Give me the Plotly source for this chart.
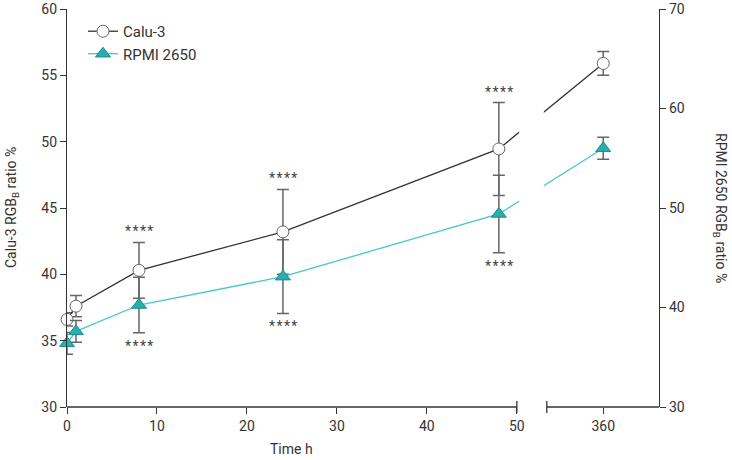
import plotly.graph_objects as go

# ---- data ----
times = [0, 1, 8, 24, 48, 360]
time_ticks = [0, 10, 20, 30, 40, 50, 360]
calu3_mean = [36.6, 37.6, 40.3, 43.2, 49.45, 55.9]
calu3_err = [0.5, 0.8, 2.1, 3.2, 3.5, 0.9]
rpmi_mean = [36.4, 37.6, 40.25, 43.1, 49.4, 56.0]
rpmi_err = [1.1, 1.1, 2.8, 3.7, 3.9, 1.1]
signif_times = [8, 24, 48]
signif_label = "*\u200a*\u200a*\u200a*"

# ---- broken x axis: 0-50 linear, then 360 placed after the break ----
SEG1_END = 50
GAP_START, GAP_END = 53.33, 65.8
POS_360 = 59.6


def xpos(t):
    return t if t <= SEG1_END else POS_360


xs = [xpos(t) for t in times]
tickpos = [xpos(t) for t in time_ticks]

FONT = "Roboto"
TXT = "#333333"
ERR = "#666666"

fig = go.Figure()
fig.add_trace(go.Scatter(
    x=xs, y=calu3_mean, name="Calu-3", mode="lines+markers",
    line=dict(color="#333333", width=1.3),
    marker=dict(symbol="circle", size=12, color="white",
                line=dict(color="#666666", width=1)),
    error_y=dict(type="data", array=calu3_err, color=ERR, thickness=1.5, width=6),
    cliponaxis=False, yaxis="y",
))
fig.add_trace(go.Scatter(
    x=xs, y=rpmi_mean, name="RPMI 2650", mode="lines+markers",
    line=dict(color="#45c8cc", width=1.3),
    marker=dict(symbol="triangle-up", size=13, color="#27aeb1",
                line=dict(color="#1d8c8f", width=1)),
    error_y=dict(type="data", array=rpmi_err, color=ERR, thickness=1.5, width=6),
    cliponaxis=False, yaxis="y2",
))

shapes = [
    # gap in the plot (break)
    dict(type="rect", xref="x", yref="paper", x0=50.25, x1=53.0, y0=-0.005, y1=1.0,
         fillcolor="white", line=dict(width=0), layer="above"),
    # axis segments
    dict(type="line", xref="x", yref="paper", x0=0, x1=SEG1_END, y0=0, y1=0,
         line=dict(color=TXT, width=1.3), layer="above"),
    dict(type="line", xref="x", yref="paper", x0=GAP_START, x1=GAP_END, y0=0, y1=0,
         line=dict(color=TXT, width=1.3), layer="above"),
    # break caps
    dict(type="line", xref="x", yref="paper", x0=SEG1_END, x1=SEG1_END,
         ysizemode="pixel", yanchor=0, y0=-6, y1=6,
         line=dict(color=TXT, width=1.3), layer="above"),
    dict(type="line", xref="x", yref="paper", x0=GAP_START, x1=GAP_START,
         ysizemode="pixel", yanchor=0, y0=-6, y1=6,
         line=dict(color=TXT, width=1.3), layer="above"),
]

annotations = []
for t in signif_times:
    i = times.index(t)
    annotations.append(dict(x=xpos(t), y=calu3_mean[i] + calu3_err[i], xref="x", yref="y",
                            text=signif_label, showarrow=False, yanchor="bottom", yshift=1,
                            font=dict(family=FONT, size=14, color="#444444")))
    annotations.append(dict(x=xpos(t), y=rpmi_mean[i] - rpmi_err[i], xref="x", yref="y2",
                            text=signif_label, showarrow=False, yanchor="top", yshift=-3,
                            font=dict(family=FONT, size=14, color="#444444")))

annotations.append(dict(x=25, y=0, xref="x", yref="paper", yshift=-42, text="Time h",
                        showarrow=False, yanchor="middle",
                        font=dict(family=FONT, size=14, color=TXT)))
annotations.append(dict(x=0, y=0.5, xref="paper", yref="paper", xshift=-55,
                        text="Calu-3 RGB<sub>B</sub> ratio %", textangle=-90,
                        showarrow=False, xanchor="center", yanchor="middle",
                        font=dict(family=FONT, size=14, color=TXT)))
annotations.append(dict(x=1, y=0.5, xref="paper", yref="paper", xshift=61,
                        text="RPMI 2650 RGB<sub>B</sub> ratio %", textangle=90,
                        showarrow=False, xanchor="center", yanchor="middle",
                        font=dict(family=FONT, size=14, color=TXT)))

fig.update_layout(
    width=732, height=460,
    margin=dict(l=67, r=73, t=9, b=53, autoexpand=False),
    paper_bgcolor="white", plot_bgcolor="white",
    font=dict(family=FONT, size=14, color=TXT),
    showlegend=True,
    legend=dict(x=0.027, y=0.985, xanchor="left", yanchor="top",
                bgcolor="rgba(0,0,0,0)", font=dict(family=FONT, size=15, color=TXT),
                tracegroupgap=2),
    xaxis=dict(range=[0, GAP_END], tickvals=tickpos, ticktext=[str(t) for t in time_ticks],
               showline=False, showgrid=False, zeroline=False, automargin=False,
               ticks="outside", ticklen=6, tickwidth=1.3, tickcolor=TXT,
               tickfont=dict(family=FONT, size=14, color=TXT)),
    yaxis=dict(range=[30, 60], dtick=5, showline=True, linecolor=TXT, linewidth=1.3,
               showgrid=False, zeroline=False, ticks="outside", ticklen=6, automargin=False,
               tickwidth=1.3, tickcolor=TXT, tickfont=dict(family=FONT, size=14, color=TXT)),
    yaxis2=dict(range=[30, 70], dtick=10, overlaying="y", side="right", anchor="x",
                showline=True, linecolor=TXT, linewidth=1.3, showgrid=False, zeroline=False,
                ticks="outside", ticklen=6, tickwidth=1.3, tickcolor=TXT, automargin=False,
                tickfont=dict(family=FONT, size=14, color=TXT)),
    shapes=shapes,
    annotations=annotations,
)

fig.write_html("out.html", config={"displayModeBar": False},
               post_script="document.body.style.margin='0';document.body.style.overflow='hidden';")
